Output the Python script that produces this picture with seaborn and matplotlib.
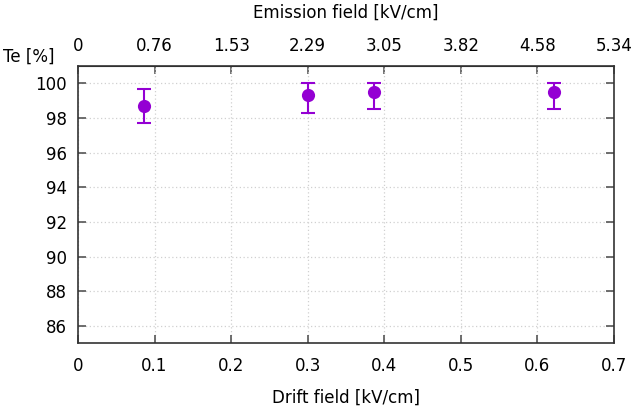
import numpy as np
import pandas as pd
import seaborn as sns
import matplotlib.pyplot as plt

# data
drift_field = [0.086, 0.300, 0.386, 0.622]
te_percent = [98.7, 99.3, 99.5, 99.5]
err_low = [1.0, 1.0, 1.0, 1.0]
err_high = [1.0, 0.7, 0.5, 0.5]

drift_ticks = [0, 0.1, 0.2, 0.3, 0.4, 0.5, 0.6, 0.7]
drift_labels = ['0', '0.1', '0.2', '0.3', '0.4', '0.5', '0.6', '0.7']
emission_labels = ['0', '0.76', '1.53', '2.29', '3.05', '3.82', '4.58', '5.34']
te_ticks = [86, 88, 90, 92, 94, 96, 98, 100]

sns.set_style('ticks')
plt.rcParams['font.family'] = ['DejaVu Sans']
plt.rcParams['font.size'] = 12
plt.rcParams['text.color'] = 'black'
plt.rcParams['axes.labelcolor'] = 'black'
plt.rcParams['xtick.color'] = 'black'
plt.rcParams['ytick.color'] = 'black'

df = pd.DataFrame({'drift': drift_field, 'te': te_percent})
color = '#9400d3'

fig = plt.figure(figsize=(6.35, 4.12), dpi=100)
ax = fig.add_axes([0.1228, 0.1667, 0.8442, 0.6731])

ax.errorbar(df['drift'], df['te'], yerr=[err_low, err_high], fmt='none',
            ecolor=color, elinewidth=1.5, capsize=5, capthick=1.5, zorder=3)
sns.scatterplot(data=df, x='drift', y='te', color=color, s=90,
                edgecolor=color, linewidth=0, ax=ax, zorder=4)

ax.set_xlim(0, 0.7)
ax.set_ylim(85, 101)
ax.set_xticks(drift_ticks)
ax.set_xticklabels(drift_labels)
ax.set_yticks(te_ticks)
ax.set_xlabel('Drift field [kV/cm]', labelpad=10)
ax.set_ylabel('')
ax.grid(True, color='#d0d0d0', linestyle=(0, (1, 2)), linewidth=0.9)
ax.tick_params(direction='in', length=6, width=1.2, color='#555555',
               labelcolor='black', right=True, labelsize=12, pad=8)
ax.tick_params(axis='x', pad=10)
for sp in ax.spines.values():
    sp.set_linewidth(1.2)
    sp.set_color('#333333')

top = ax.secondary_xaxis('top')
top.set_xticks(drift_ticks)
top.set_xticklabels(emission_labels)
top.tick_params(direction='in', length=6, width=1.2, color='#555555',
                labelcolor='black', labelsize=12, pad=8)
top.set_xlabel('Emission field [kV/cm]', labelpad=14)

fig.text(0.005, 0.84, 'Te [%]', fontsize=12, ha='left', va='bottom')

fig.savefig('out.png', dpi=100)
